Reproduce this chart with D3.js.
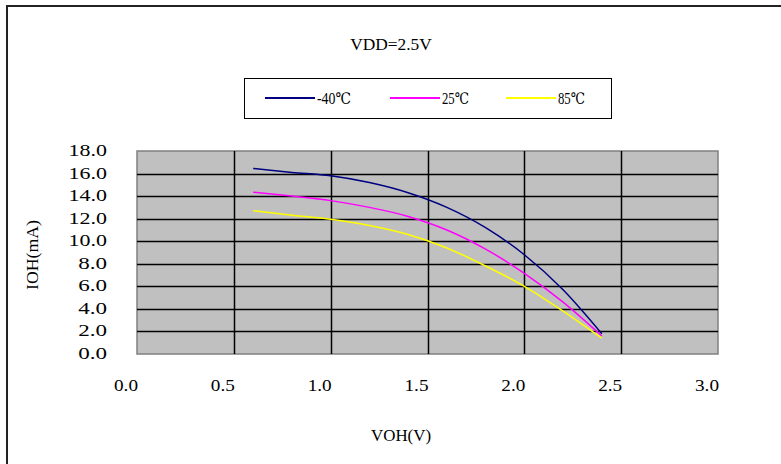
<!DOCTYPE html>
<html><head><meta charset="utf-8">
<script src="https://cdn.jsdelivr.net/npm/d3@7"></script>
<style>body{margin:0;background:#fff}svg{display:block}text{font-family:"Liberation Serif","DejaVu Serif",serif;fill:#000}</style>
</head><body>
<script>
const title = "VDD=2.5V";
const xTitle = "VOH(V)";
const yTitle = "IOH(mA)";
const seriesNames = ["-40℃", "25℃", "85℃"];
const seriesColors = ["#000080", "#FF00FF", "#FFFF00"];
const voh = [0.6, 0.8, 1.0, 1.2, 1.4, 1.6, 1.8, 2.0, 2.2, 2.4];
const iohM40 = [16.45, 16.1, 15.8, 15.2, 14.3, 13.0, 11.2, 8.8, 5.7, 1.8];
const ioh25 = [14.35, 14.0, 13.6, 13.0, 12.2, 11.0, 9.3, 7.15, 4.6, 1.6];
const ioh85 = [12.7, 12.3, 11.95, 11.4, 10.6, 9.4, 7.8, 6.0, 3.8, 1.4];
const xTicks = [0, 0.5, 1.0, 1.5, 2.0, 2.5, 3.0];
const yTicks = [0, 2, 4, 6, 8, 10, 12, 14, 16, 18];

const W = 781, H = 464;
const svg = d3.select("body").append("svg").attr("width", W).attr("height", H);
svg.append("rect").attr("x", 7).attr("y", 6).attr("width", 800).attr("height", 500)
  .attr("fill", "none").attr("stroke", "#222").attr("stroke-width", 2);

const pl = 137, pr = 718, pt = 151, pb = 354;
const x = d3.scaleLinear().domain([0, 3]).range([pl, pr]);
const y = d3.scaleLinear().domain([0, 18]).range([pb, pt]);

svg.append("rect").attr("x", pl).attr("y", pt).attr("width", pr - pl).attr("height", pb - pt)
  .attr("fill", "#C0C0C0").attr("stroke", "#808080").attr("stroke-width", 1.5);

svg.append("g").selectAll("line").data(yTicks.slice(1, -1)).join("line")
  .attr("x1", pl).attr("x2", pr).attr("y1", d => Math.round(y(d)) + 0.5).attr("y2", d => Math.round(y(d)) + 0.5)
  .attr("stroke", "#000").attr("stroke-width", 1.5);
svg.append("g").selectAll("line").data(xTicks.slice(1, -1)).join("line")
  .attr("y1", pt).attr("y2", pb).attr("x1", d => Math.round(x(d)) + 0.5).attr("x2", d => Math.round(x(d)) + 0.5)
  .attr("stroke", "#000").attr("stroke-width", 1.5);

const mono = (sel, per) => sel.attr("textLength", function () { return this.textContent.length * per; })
  .attr("lengthAdjust", "spacingAndGlyphs");

// axes labels
mono(svg.append("g").selectAll("text").data(yTicks).join("text")
  .attr("x", 107).attr("y", d => y(d) + 5).attr("text-anchor", "end")
  .attr("font-size", 16).text(d => d.toFixed(1)), 9.6);
mono(svg.append("g").selectAll("text").data(xTicks).join("text")
  .attr("x", d => x(d) - 11).attr("y", 391).attr("text-anchor", "middle")
  .attr("font-size", 16).text(d => d.toFixed(1)), 8);

mono(svg.append("text").attr("x", 391).attr("y", 50).attr("text-anchor", "middle").attr("font-size", 16).text(title), 10.2);
mono(svg.append("text").attr("x", 401).attr("y", 441).attr("text-anchor", "middle").attr("font-size", 16).text(xTitle), 10);
mono(svg.append("text").attr("transform", "translate(38,255) rotate(-90)").attr("text-anchor", "middle").attr("font-size", 16).text(yTitle), 10);

const series = [iohM40, ioh25, ioh85];
const line = d3.line().x(d => x(d[0])).y(d => y(d[1])).curve(d3.curveMonotoneX);
series.forEach((s, i) => {
  svg.append("path").datum(voh.map((v, j) => [v, s[j]])).attr("d", line)
    .attr("fill", "none").attr("stroke", seriesColors[i]).attr("stroke-width", 1.5);
});

// legend
svg.append("rect").attr("x", 244.5).attr("y", 78.5).attr("width", 367).attr("height", 40)
  .attr("fill", "#fff").attr("stroke", "#000").attr("stroke-width", 1);
const legX = [265, 390, 506];
const legW = [34, 27, 27];
seriesNames.forEach((n, i) => {
  svg.append("line").attr("x1", legX[i]).attr("x2", legX[i] + 50).attr("y1", 98).attr("y2", 98)
    .attr("stroke", seriesColors[i]).attr("stroke-width", 2);
  svg.append("text").attr("x", legX[i] + 52).attr("y", 104).attr("font-size", 16)
    .attr("textLength", legW[i]).attr("lengthAdjust", "spacingAndGlyphs").text(n);
});
</script>
</body></html>
